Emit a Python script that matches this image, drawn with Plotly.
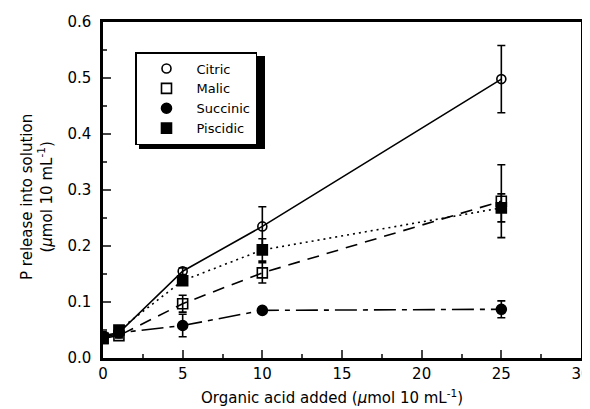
import plotly.graph_objects as go

acid_added = [0, 1, 5, 10, 25]
series_names = ["Citric", "Malic", "Succinic", "Piscidic"]
citric = [0.035, 0.045, 0.155, 0.235, 0.498]
citric_err = [0.005, 0.004, 0.006, 0.035, 0.06]
malic = [0.035, 0.040, 0.097, 0.152, 0.280]
malic_err = [0.004, 0.004, 0.015, 0.018, 0.065]
succinic = [0.040, 0.045, 0.058, 0.085, 0.087]
succinic_err = [0.004, 0.004, 0.020, 0.004, 0.015]
piscidic = [0.035, 0.050, 0.138, 0.193, 0.268]
piscidic_err = [0.004, 0.004, 0.006, 0.020, 0.025]

values = [citric, malic, succinic, piscidic]
errors = [citric_err, malic_err, succinic_err, piscidic_err]
dashes = ["solid", "12px,8px", "22px,6px,5px,6px", "2px,4px"]
symbols = ["circle-open", "square-open", "circle", "square"]
sizes = [9, 10, 10, 10]

FONT = "DejaVu Sans"
fig = go.Figure()
for name, y, d in zip(series_names, values, dashes):
    fig.add_trace(go.Scatter(x=acid_added, y=y, mode="lines", showlegend=False,
                             line=dict(color="black", width=1.6, dash=d),
                             hoverinfo="skip"))
for name, y, e, s, sz in zip(series_names, values, errors, symbols, sizes):
    fig.add_trace(go.Scatter(
        x=acid_added, y=y, mode="markers", name=name,
        marker=dict(symbol=s, size=sz, color="black",
                    line=dict(color="black", width=1.6)),
        error_y=dict(type="data", array=e, visible=True, color="black",
                     thickness=1.6, width=4),
    ))

OFF = 8  # page body margin
W, H = 590 - OFF, 409 - OFF
L, T, PW, PH = 103 - OFF, 22 - OFF, 478, 336
def px(x):  # page pixel -> paper
    return (x - OFF - L) / PW
def py(y):
    return (T + PH - (y - OFF)) / PH

fig.update_layout(
    width=W, height=H,
    margin=dict(l=L, r=W - L - PW, t=T, b=H - T - PH),
    paper_bgcolor="white", plot_bgcolor="rgba(0,0,0,0)",
    font=dict(family=FONT, size=15, color="black"),
    legend=dict(x=px(135), y=py(52), xanchor="left", yanchor="top",
                bgcolor="white", bordercolor="black", borderwidth=1.5,
                font=dict(family=FONT, size=13), itemwidth=50,
                tracegroupgap=0),
    shapes=[dict(type="rect", xref="paper", yref="paper",
                 x0=px(139), x1=px(265),
                 y0=py(149), y1=py(56),
                 fillcolor="black", line=dict(width=0), layer="above")],
    annotations=[
        dict(text="Organic acid added (<i>µ</i>mol 10 mL<sup>-1</sup>)",
             xref="paper", yref="paper", x=px(332), y=py(397),
             showarrow=False, xanchor="center", yanchor="middle",
             font=dict(size=15)),
        dict(text="P release into solution<br>(<i>µ</i>mol 10 mL<sup>-1</sup>)",
             xref="paper", yref="paper", x=px(37), y=py(197),
             showarrow=False, xanchor="center", yanchor="middle",
             textangle=-90, font=dict(size=15)),
    ],
)
fig.update_xaxes(
    range=[0, 30], dtick=5, tick0=0, ticks="inside", ticklen=8, tickwidth=2,
    showline=True, linecolor="black", linewidth=2.5, mirror=True,
    showgrid=False, zeroline=False, automargin=False,
    ticklabeloverflow="allow",
    minor=dict(ticks="inside", ticklen=4, tickwidth=2, dtick=2.5, tick0=0),
)
fig.update_yaxes(
    range=[0, 0.6], dtick=0.1, tick0=0, ticks="inside", ticklen=8, tickwidth=2,
    showline=True, linecolor="black", linewidth=2.5, mirror=True,
    showgrid=False, zeroline=False, tickformat=".1f", automargin=False,
    ticklabelstandoff=6,
    minor=dict(ticks="inside", ticklen=4, tickwidth=2, dtick=0.05, tick0=0),
)
fig.write_html("out.html")
